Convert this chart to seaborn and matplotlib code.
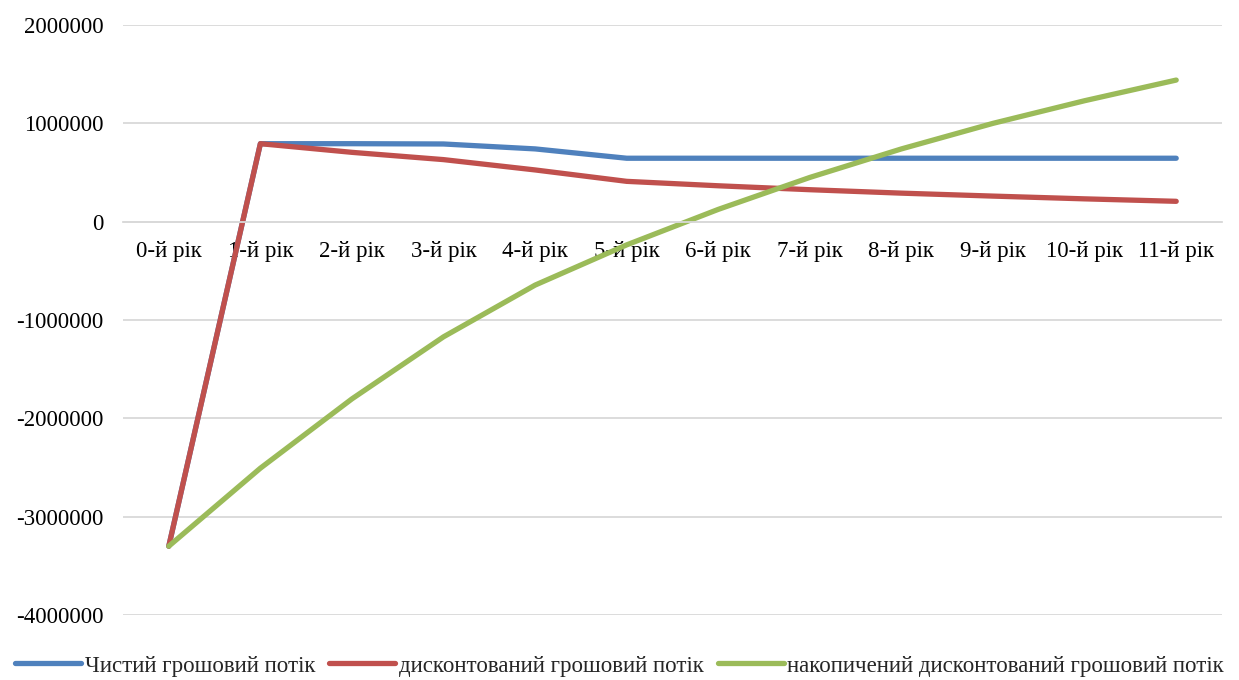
import matplotlib
matplotlib.use("Agg")
import matplotlib.pyplot as plt
import seaborn as sns
import pandas as pd

# Project cash flows by year (UAH)
years = ["0-й рік", "1-й рік", "2-й рік", "3-й рік", "4-й рік", "5-й рік",
         "6-й рік", "7-й рік", "8-й рік", "9-й рік", "10-й рік", "11-й рік"]
net_cf = [-3300000, 793000, 793000, 790000, 740000, 645000,
          645000, 645000, 645000, 645000, 645000, 645000]
disc_cf = [-3300000, 793000, 705000, 631000, 526000, 410000,
           365000, 325000, 290000, 260000, 232000, 207000]
cum_disc_cf = [-3300000, -2507000, -1802000, -1171000, -645000, -236000,
               125000, 450000, 740000, 1000000, 1230000, 1440000]

series_names = ["Чистий грошовий потік", "дисконтований грошовий потік",
                "накопичений дисконтований грошовий потік"]
y_ticks = [2000000, 1000000, 0, -1000000, -2000000, -3000000, -4000000]

df = pd.DataFrame({
    "x": list(range(len(years))) * 3,
    "value": net_cf + disc_cf + cum_disc_cf,
    "series": [series_names[0]] * len(years)
              + [series_names[1]] * len(years)
              + [series_names[2]] * len(years),
})

sns.set_theme(style="white")
plt.rcParams["font.family"] = ["Liberation Serif", "DejaVu Serif"]

fig = plt.figure(figsize=(12.39, 6.8), dpi=100)
ax = fig.add_axes([123 / 1239, 1 - 615 / 680, (1222 - 123) / 1239, (615 - 25) / 680])

palette = {series_names[0]: "#4F81BD",
           series_names[1]: "#C0504D",
           series_names[2]: "#9BBB59"}
sns.lineplot(data=df, x="x", y="value", hue="series", palette=palette,
             linewidth=3.8, ax=ax, sort=False, legend=True)
for ln in ax.get_lines():
    ln.set_solid_capstyle("round")
    ln.set_solid_joinstyle("round")

# Category axis crosses the value axis at zero
for side in ["top", "right", "left"]:
    ax.spines[side].set_visible(False)
ax.spines["bottom"].set_position(("data", 0))
ax.spines["bottom"].set_color("#D9D9D9")
ax.spines["bottom"].set_linewidth(1.3)

ax.set_xlim(-0.5, len(years) - 0.5)
ax.set_ylim(-4000000, 2000000)
ax.set_yticks(y_ticks)
ax.set_yticklabels([str(v) for v in y_ticks])
ax.set_xticks(range(len(years)))
ax.set_xticklabels(years)
ax.set_xlabel("")
ax.set_ylabel("")
ax.tick_params(axis="x", length=0, pad=14, colors="black", labelsize=16.5)
ax.tick_params(axis="y", length=0, pad=14, colors="black", labelsize=16.5)

ax.yaxis.grid(True, color="#D9D9D9", linewidth=1.3)
ax.xaxis.grid(False)
ax.set_axisbelow(True)

# Legend centred on the figure, below the plot area
handles, labels = ax.get_legend_handles_labels()
ax.get_legend().remove()
fig.legend(handles, labels, loc="center", bbox_to_anchor=(0.5, 1 - 666 / 680),
           ncol=3, frameon=False, fontsize=16.5, handlelength=2.9,
           handletextpad=0.15, columnspacing=0.6, borderaxespad=0)

fig.savefig("out.png", dpi=100, facecolor="white")
